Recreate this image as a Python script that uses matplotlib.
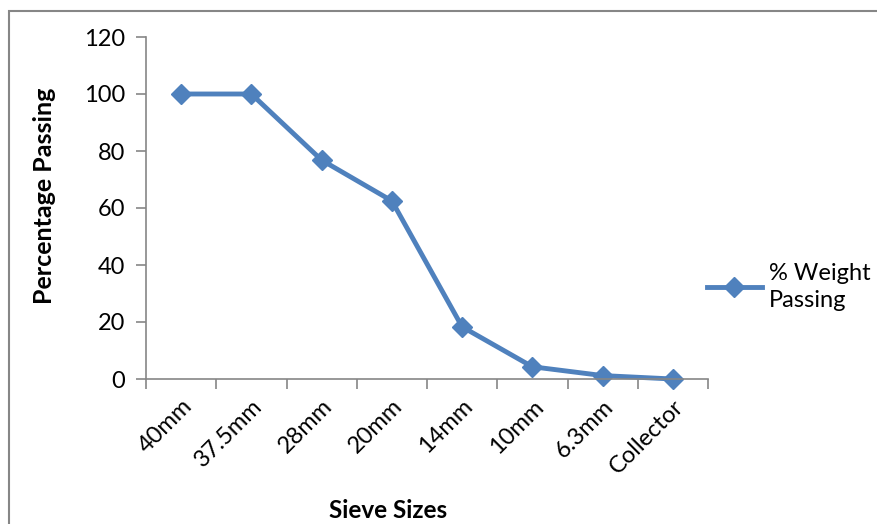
import matplotlib
matplotlib.use("Agg")
import matplotlib.pyplot as plt
from matplotlib.patches import Rectangle

# sieve analysis data
sieves = ["40mm", "37.5mm", "28mm", "20mm", "14mm", "10mm", "6.3mm", "Collector"]
passing = [100, 100, 76.8, 62.5, 18.3, 4.3, 1.2, 0]
y_ticks = [0, 20, 40, 60, 80, 100, 120]

plt.rcParams['font.family'] = ['Lato', 'DejaVu Sans']

blue = '#4F81BD'
grey = '#868686'

fig = plt.figure(figsize=(8.78, 5.24), dpi=100)
ax = fig.add_axes([146/878, 1 - 379/524, (708 - 146)/878, (379 - 37)/524])

x = list(range(len(sieves)))
line, = ax.plot(x, passing, color=blue, lw=3.5, marker='D', markersize=10.5,
                label='% Weight\nPassing', clip_on=False)

ax.set_xlim(-0.5, len(sieves) - 0.5)
ax.set_ylim(0, 120)
ax.set_yticks(y_ticks)
ax.set_xticks([i - 0.5 for i in range(len(sieves) + 1)], minor=False)
ax.set_xticklabels([])
ax.set_xticks(x, minor=True)
ax.set_xticklabels(sieves, minor=True, rotation=45, ha='right', va='top',
                   rotation_mode='anchor', fontsize=17)
ax.tick_params(axis='x', which='minor', length=0, pad=12)
ax.tick_params(axis='x', which='major', length=7, color=grey, width=1.2)
ax.tick_params(axis='y', length=7, color=grey, width=1.2, labelsize=17, pad=8)

for s in ['top', 'right']:
    ax.spines[s].set_visible(False)
for s in ['left', 'bottom']:
    ax.spines[s].set_color(grey)
    ax.spines[s].set_linewidth(1.2)

fig.text(45/878, 1 - 196/524, 'Percentage Passing', rotation=90, ha='center',
         va='center', fontsize=18, fontweight='bold')
fig.text(388/878, 1 - 510/524, 'Sieve Sizes', ha='center', va='center',
         fontsize=17.5, fontweight='bold')

leg = fig.legend(handles=[line], loc='center left',
                 bbox_to_anchor=(686/878, 1 - 287/524), frameon=False,
                 fontsize=17, handlelength=2.3, handletextpad=0.3)
for t in leg.get_texts():
    t.set_linespacing(1.4)

# chart area border
fig.patches.append(Rectangle((8.5/878, -0.1), 1.2, 1 + 0.1 - 11.5/524,
                             transform=fig.transFigure, fill=False,
                             edgecolor=grey, lw=1.5))

fig.savefig('out.png', dpi=100)
